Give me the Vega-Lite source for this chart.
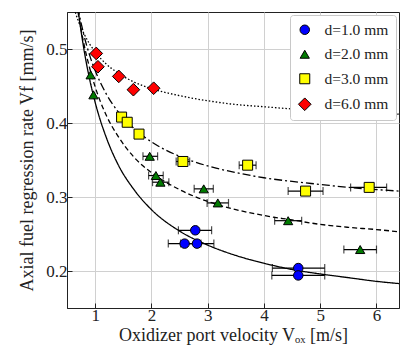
{
  "$schema": "https://vega.github.io/schema/vega-lite/v6.json",
  "width": 332,
  "height": 296,
  "autosize": {"type": "none"},
  "padding": {"left": 67, "top": 12, "right": 1, "bottom": 43},
  "background": "white",
  "config": {
    "font": "Liberation Serif",
    "view": {"stroke": "#222", "strokeWidth": 1},
    "axis": {
      "labelFont": "Liberation Serif",
      "titleFont": "Liberation Serif",
      "labelFontSize": 17,
      "titleFontSize": 18,
      "titleFontWeight": "normal",
      "labelColor": "#222",
      "titleColor": "#222",
      "gridColor": "#d0d0d0",
      "gridWidth": 1,
      "domainColor": "#222",
      "tickColor": "#222",
      "tickSize": -5
    },
    "legend": {
      "labelFont": "Liberation Serif",
      "labelFontSize": 15.5,
      "labelColor": "#222"
    }
  },
  "datasets": {
    "pts": [
      {"d": "d=1.0 mm", "vox": 2.78, "vf": 0.255, "xlo": 2.48, "xhi": 3.07},
      {"d": "d=1.0 mm", "vox": 2.59, "vf": 0.237, "xlo": 2.30, "xhi": 2.88},
      {"d": "d=1.0 mm", "vox": 2.81, "vf": 0.237, "xlo": 2.52, "xhi": 3.11},
      {"d": "d=1.0 mm", "vox": 4.61, "vf": 0.204, "xlo": 4.15, "xhi": 5.08},
      {"d": "d=1.0 mm", "vox": 4.61, "vf": 0.194, "xlo": 4.14, "xhi": 5.08},
      {"d": "d=2.0 mm", "vox": 0.92, "vf": 0.465, "xlo": 0.92, "xhi": 0.92},
      {"d": "d=2.0 mm", "vox": 0.97, "vf": 0.438, "xlo": 0.97, "xhi": 0.97},
      {"d": "d=2.0 mm", "vox": 1.97, "vf": 0.355, "xlo": 1.85, "xhi": 2.11},
      {"d": "d=2.0 mm", "vox": 2.08, "vf": 0.329, "xlo": 1.95, "xhi": 2.21},
      {"d": "d=2.0 mm", "vox": 2.16, "vf": 0.32, "xlo": 2.02, "xhi": 2.31},
      {"d": "d=2.0 mm", "vox": 2.93, "vf": 0.311, "xlo": 2.76, "xhi": 3.10},
      {"d": "d=2.0 mm", "vox": 3.18, "vf": 0.292, "xlo": 2.99, "xhi": 3.37},
      {"d": "d=2.0 mm", "vox": 4.43, "vf": 0.268, "xlo": 4.19, "xhi": 4.67},
      {"d": "d=2.0 mm", "vox": 5.71, "vf": 0.229, "xlo": 5.42, "xhi": 6.00},
      {"d": "d=3.0 mm", "vox": 1.47, "vf": 0.408, "xlo": 1.47, "xhi": 1.47},
      {"d": "d=3.0 mm", "vox": 1.57, "vf": 0.401, "xlo": 1.57, "xhi": 1.57},
      {"d": "d=3.0 mm", "vox": 1.78, "vf": 0.385, "xlo": 1.78, "xhi": 1.78},
      {"d": "d=3.0 mm", "vox": 2.56, "vf": 0.348, "xlo": 2.44, "xhi": 2.68},
      {"d": "d=3.0 mm", "vox": 3.71, "vf": 0.343, "xlo": 3.56, "xhi": 3.86},
      {"d": "d=3.0 mm", "vox": 4.74, "vf": 0.308, "xlo": 4.43, "xhi": 5.05},
      {"d": "d=3.0 mm", "vox": 5.87, "vf": 0.313, "xlo": 5.54, "xhi": 6.18},
      {"d": "d=6.0 mm", "vox": 1.02, "vf": 0.494, "xlo": 1.02, "xhi": 1.02},
      {"d": "d=6.0 mm", "vox": 1.05, "vf": 0.476, "xlo": 1.05, "xhi": 1.05},
      {"d": "d=6.0 mm", "vox": 1.42, "vf": 0.463, "xlo": 1.42, "xhi": 1.42},
      {"d": "d=6.0 mm", "vox": 1.68, "vf": 0.445, "xlo": 1.68, "xhi": 1.68},
      {"d": "d=6.0 mm", "vox": 2.04, "vf": 0.447, "xlo": 2.04, "xhi": 2.04}
    ],
    "fits": [
      {"fit": "f1", "vox": 0.6, "vf": 0.621},
      {"fit": "f1", "vox": 0.7, "vf": 0.552},
      {"fit": "f1", "vox": 0.8, "vf": 0.500},
      {"fit": "f1", "vox": 0.9, "vf": 0.460},
      {"fit": "f1", "vox": 1.0, "vf": 0.428},
      {"fit": "f1", "vox": 1.2, "vf": 0.380},
      {"fit": "f1", "vox": 1.4, "vf": 0.345},
      {"fit": "f1", "vox": 1.7, "vf": 0.309},
      {"fit": "f1", "vox": 2.0, "vf": 0.283},
      {"fit": "f1", "vox": 2.5, "vf": 0.254},
      {"fit": "f1", "vox": 3.0, "vf": 0.235},
      {"fit": "f1", "vox": 3.5, "vf": 0.221},
      {"fit": "f1", "vox": 4.0, "vf": 0.2105},
      {"fit": "f1", "vox": 4.5, "vf": 0.202},
      {"fit": "f1", "vox": 5.0, "vf": 0.196},
      {"fit": "f1", "vox": 5.5, "vf": 0.191},
      {"fit": "f1", "vox": 6.0, "vf": 0.186},
      {"fit": "f1", "vox": 6.4, "vf": 0.183},
      {"fit": "f2", "vox": 0.6, "vf": 0.604},
      {"fit": "f2", "vox": 0.7, "vf": 0.548},
      {"fit": "f2", "vox": 0.8, "vf": 0.507},
      {"fit": "f2", "vox": 0.9, "vf": 0.475},
      {"fit": "f2", "vox": 1.0, "vf": 0.449},
      {"fit": "f2", "vox": 1.2, "vf": 0.410},
      {"fit": "f2", "vox": 1.4, "vf": 0.383},
      {"fit": "f2", "vox": 1.7, "vf": 0.353},
      {"fit": "f2", "vox": 2.0, "vf": 0.333},
      {"fit": "f2", "vox": 2.5, "vf": 0.310},
      {"fit": "f2", "vox": 3.0, "vf": 0.294},
      {"fit": "f2", "vox": 3.5, "vf": 0.283},
      {"fit": "f2", "vox": 4.0, "vf": 0.275},
      {"fit": "f2", "vox": 4.5, "vf": 0.269},
      {"fit": "f2", "vox": 5.0, "vf": 0.263},
      {"fit": "f2", "vox": 5.5, "vf": 0.259},
      {"fit": "f2", "vox": 6.0, "vf": 0.256},
      {"fit": "f2", "vox": 6.4, "vf": 0.253},
      {"fit": "f3", "vox": 0.6, "vf": 0.600},
      {"fit": "f3", "vox": 0.7, "vf": 0.554},
      {"fit": "f3", "vox": 0.8, "vf": 0.519},
      {"fit": "f3", "vox": 0.9, "vf": 0.492},
      {"fit": "f3", "vox": 1.0, "vf": 0.471},
      {"fit": "f3", "vox": 1.2, "vf": 0.439},
      {"fit": "f3", "vox": 1.4, "vf": 0.416},
      {"fit": "f3", "vox": 1.7, "vf": 0.392},
      {"fit": "f3", "vox": 2.0, "vf": 0.3745},
      {"fit": "f3", "vox": 2.5, "vf": 0.355},
      {"fit": "f3", "vox": 3.0, "vf": 0.342},
      {"fit": "f3", "vox": 3.5, "vf": 0.333},
      {"fit": "f3", "vox": 4.0, "vf": 0.326},
      {"fit": "f3", "vox": 4.5, "vf": 0.321},
      {"fit": "f3", "vox": 5.0, "vf": 0.317},
      {"fit": "f3", "vox": 5.5, "vf": 0.313},
      {"fit": "f3", "vox": 6.0, "vf": 0.310},
      {"fit": "f3", "vox": 6.4, "vf": 0.308},
      {"fit": "f6", "vox": 0.55, "vf": 0.577},
      {"fit": "f6", "vox": 0.6, "vf": 0.562},
      {"fit": "f6", "vox": 0.7, "vf": 0.538},
      {"fit": "f6", "vox": 0.8, "vf": 0.521},
      {"fit": "f6", "vox": 0.9, "vf": 0.507},
      {"fit": "f6", "vox": 1.0, "vf": 0.496},
      {"fit": "f6", "vox": 1.2, "vf": 0.4795},
      {"fit": "f6", "vox": 1.4, "vf": 0.468},
      {"fit": "f6", "vox": 1.7, "vf": 0.455},
      {"fit": "f6", "vox": 2.0, "vf": 0.4465},
      {"fit": "f6", "vox": 2.5, "vf": 0.437},
      {"fit": "f6", "vox": 3.0, "vf": 0.430},
      {"fit": "f6", "vox": 3.5, "vf": 0.425},
      {"fit": "f6", "vox": 4.0, "vf": 0.422},
      {"fit": "f6", "vox": 4.5, "vf": 0.419},
      {"fit": "f6", "vox": 5.0, "vf": 0.417},
      {"fit": "f6", "vox": 5.5, "vf": 0.415},
      {"fit": "f6", "vox": 6.0, "vf": 0.4135},
      {"fit": "f6", "vox": 6.4, "vf": 0.412}
    ]
  },
  "encoding": {
    "x": {
      "field": "vox", "type": "quantitative",
      "scale": {"domain": [0.5, 6.4], "nice": false, "zero": false},
      "axis": {"title": "Oxidizer port velocity Vₒₓ [m/s]", "values": [1, 2, 3, 4, 5, 6], "format": "d", "labelPadding": 4, "titlePadding": 3}
    },
    "y": {
      "field": "vf", "type": "quantitative",
      "scale": {"domain": [0.15, 0.55], "nice": false, "zero": false},
      "axis": {"title": "Axial fuel regression rate Vf [mm/s]", "values": [0.2, 0.3, 0.4, 0.5], "format": ".1f", "labelPadding": 5, "titlePadding": 9}
    }
  },
  "layer": [
    {
      "data": {"name": "fits"},
      "mark": {"type": "line", "clip": true, "color": "black", "strokeWidth": 1.3, "interpolate": "monotone"},
      "encoding": {
        "strokeDash": {
          "field": "fit", "type": "nominal",
          "scale": {"domain": ["f1", "f2", "f3", "f6"], "range": [[1, 0], [5, 3], [8, 3, 2, 3], [1.5, 2]]},
          "legend": null
        }
      }
    },
    {
      "data": {"name": "pts"},
      "mark": {"type": "rule", "color": "black", "strokeWidth": 1.2},
      "encoding": {"x": {"field": "xlo", "type": "quantitative"}, "x2": {"field": "xhi"}}
    },
    {
      "data": {"name": "pts"},
      "mark": {"type": "tick", "orient": "vertical", "color": "black", "thickness": 1.2, "size": 8},
      "encoding": {"x": {"field": "xlo", "type": "quantitative"}}
    },
    {
      "data": {"name": "pts"},
      "mark": {"type": "tick", "orient": "vertical", "color": "black", "thickness": 1.2, "size": 8},
      "encoding": {"x": {"field": "xhi", "type": "quantitative"}}
    },
    {
      "data": {"name": "pts"},
      "mark": {"type": "point", "filled": true, "opacity": 1, "stroke": "black", "strokeWidth": 1},
      "encoding": {
        "fill": {
          "field": "d", "type": "nominal",
          "scale": {"domain": ["d=1.0 mm", "d=2.0 mm", "d=3.0 mm", "d=6.0 mm"], "range": ["#0000ff", "#007a00", "#ffff00", "#ff0000"]},
          "legend": {
            "title": null, "orient": "top-right", "offset": 3,
            "fillColor": "white", "strokeColor": "#c8c8c8", "cornerRadius": 3, "padding": 7,
            "symbolStrokeColor": "black", "symbolStrokeWidth": 1,
            "rowPadding": 7.5, "labelOffset": 12
          }
        },
        "shape": {
          "field": "d", "type": "nominal",
          "scale": {"domain": ["d=1.0 mm", "d=2.0 mm", "d=3.0 mm", "d=6.0 mm"], "range": ["circle", "triangle-up", "square", "diamond"]}
        },
        "size": {
          "field": "d", "type": "nominal",
          "scale": {"type": "ordinal", "domain": ["d=1.0 mm", "d=2.0 mm", "d=3.0 mm", "d=6.0 mm"], "range": [90, 85, 100, 160]}
        }
      }
    }
  ]
}
